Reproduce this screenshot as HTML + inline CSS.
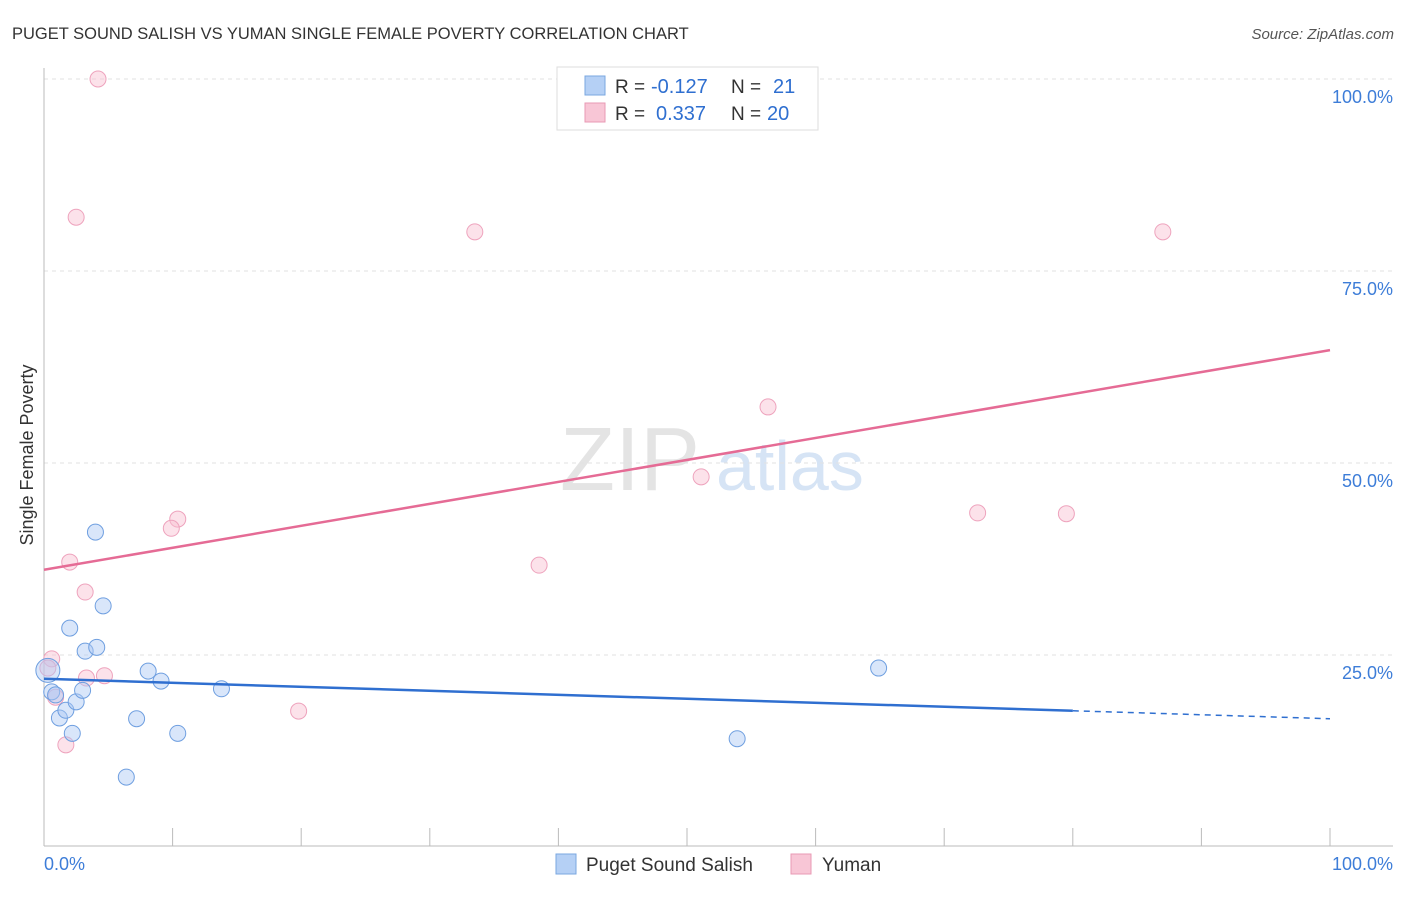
<!DOCTYPE html>
<html><head><meta charset="utf-8"><style>
body{margin:0;background:#fff;font-family:"Liberation Sans",sans-serif;}
svg text{font-family:"Liberation Sans",sans-serif;}
</style></head><body>
<svg width="1406" height="892" id="c">
<text x="12" y="39" font-size="16.5" fill="#333">PUGET SOUND SALISH VS YUMAN SINGLE FEMALE POVERTY CORRELATION CHART</text>
<text x="1394" y="39" font-size="15" fill="#555" font-style="italic" text-anchor="end">Source: ZipAtlas.com</text>
<text x="560" y="490" font-size="90" fill="#e4e4e4" font-family="Liberation Serif">ZIP</text>
<text x="716" y="490" font-size="70" fill="#d6e4f5">atlas</text>
<text transform="translate(33,455) rotate(-90)" font-size="18" fill="#333" text-anchor="middle">Single Female Poverty</text>
<g id="grid"></g><g id="marks"></g>
<g>
<rect x="557" y="67" width="261" height="63" fill="#fff" stroke="#ddd"/>
<rect x="585" y="76" width="20" height="19" fill="#b5d0f5" stroke="#7aa7e0"/>
<rect x="585" y="103" width="20" height="19" fill="#f8c6d6" stroke="#e89ab4"/>
<text x="615" y="93" font-size="19" fill="#333">R =</text>
<text x="651" y="93" font-size="20" fill="#2f6fd0">-0.127</text>
<text x="731" y="93" font-size="19" fill="#333">N =</text>
<text x="773" y="93" font-size="20" fill="#2f6fd0">21</text>
<text x="615" y="120" font-size="19" fill="#333">R =</text>
<text x="656" y="120" font-size="20" fill="#2f6fd0">0.337</text>
<text x="731" y="120" font-size="19" fill="#333">N =</text>
<text x="767" y="120" font-size="20" fill="#2f6fd0">20</text>
</g>
<g>
<rect x="556" y="854" width="20" height="20" fill="#b5d0f5" stroke="#7aa7e0"/>
<text x="586" y="871" font-size="19" fill="#333">Puget Sound Salish</text>
<rect x="791" y="854" width="20" height="20" fill="#f8c6d6" stroke="#e89ab4"/>
<text x="822" y="871" font-size="19" fill="#333">Yuman</text>
</g>
<text x="44" y="870" font-size="18" fill="#3d7dd8">0.0%</text>
<text x="1393" y="870" font-size="18" fill="#3d7dd8" text-anchor="end">100.0%</text>
</svg>
<script>
const blueX=[0.6,0.9,1.2,1.7,2.0,2.2,2.5,3.0,3.2,4.0,4.1,4.6,6.4,7.2,8.1,9.1,10.4,13.8,53.9,64.9,0.3];
const blueY=[20.2,19.8,16.8,17.8,28.5,14.8,18.9,20.4,25.5,41.0,26.0,31.4,9.1,16.7,22.9,21.6,14.8,20.6,14.1,23.3,23.0];
const pinkX=[4.2,2.5,33.5,87.0,56.3,51.1,72.6,79.5,10.4,9.9,2.0,38.5,3.2,0.6,4.7,3.3,19.8,1.7,0.9,0.3];
const pinkY=[100,82.0,80.1,80.1,57.3,48.2,43.5,43.4,42.7,41.5,37.1,36.7,33.2,24.5,22.3,22.0,17.7,13.3,19.5,23.3];
const blueLine=[21.9,16.7];
const pinkLine=[36.1,64.7];
const yTicks=[25,50,75,100];
const xTicks=[0,10,20,30,40,50,60,70,80,90,100];
const X=v=>44+v*12.86, Y=v=>847-v*7.68;
const NS="http://www.w3.org/2000/svg";
function mk(p,t,a){const e=document.createElementNS(NS,t);for(const k in a)e.setAttribute(k,a[k]);p.appendChild(e);return e;}
const g=document.getElementById('grid'), m=document.getElementById('marks');
yTicks.forEach(t=>{
 const l=mk(g,'line',{x1:44,x2:1393,y1:Y(t),y2:Y(t),stroke:'#e2e2e2','stroke-dasharray':'4,4'});
 
 
 const tx=mk(g,'text',{x:1393,y:Y(t)+24,'font-size':18,fill:'#3d7dd8','text-anchor':'end'});
 tx.textContent=t.toFixed(1)+'%';
 
 
});
const ax=mk(g,'line',{x1:44,x2:1393,y1:846,y2:846,stroke:'#bbb'});


const ay=mk(g,'line',{x1:44,x2:44,y1:68,y2:846,stroke:'#bbb'});


xTicks.forEach(t=>{const l=mk(g,'line',{x1:X(t),x2:X(t),y1:828,y2:846,stroke:'#bbb'});
 
 });
pinkX.forEach((x,i)=>{const c=mk(m,'circle',{cx:X(x),cy:Y(pinkY[i]),r:8,fill:'rgba(248,190,208,0.45)',stroke:'#eea3bd','stroke-width':1});
 
 });
blueX.forEach((x,i)=>{const c=mk(m,'circle',{cx:X(x),cy:Y(blueY[i]),r:(i==20?12:8),fill:'rgba(170,200,245,0.45)',stroke:'#6f9fe0','stroke-width':1});
 
 });
const pl=mk(m,'line',{x1:X(0),y1:Y(pinkLine[0]),x2:X(100),y2:Y(pinkLine[1]),stroke:'#e56b95','stroke-width':2.5});


const bAt=x=>blueLine[0]+(blueLine[1]-blueLine[0])*x/100;
const bl=mk(m,'line',{x1:X(0),y1:Y(bAt(0)),x2:X(80),y2:Y(bAt(80)),stroke:'#2f6fd0','stroke-width':2.5});


const bd=mk(m,'line',{x1:X(80),y1:Y(bAt(80)),x2:X(100),y2:Y(bAt(100)),stroke:'#2f6fd0','stroke-width':1.5,'stroke-dasharray':'6,5'});


</script>
</body></html>
